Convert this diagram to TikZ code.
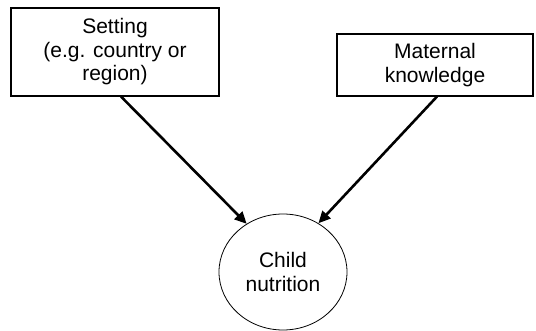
\documentclass[tikz,border=0pt]{standalone}
\usepackage{fontspec}
\setmainfont{Liberation Sans}
\usetikzlibrary{shapes.geometric,arrows.meta,calc}
\begin{document}
\begin{tikzpicture}[x=1pt,y=-1pt,
  every node/.style={font=\fontsize{21}{23.5}\selectfont, align=center, inner sep=0pt},
  factor/.style={draw=black, line width=1.1pt, rectangle},
  outcome/.style={draw=black, line width=0.8pt, ellipse},
  causal/.style={line width=2.6pt, -{Triangle[length=12pt,width=11pt]}}]
\useasboundingbox (0,0) rectangle (536,331);
\node[factor, minimum width=208pt, minimum height=88pt] (b1) at (115,52) {Setting\\(e.g. country or\\region)};
\node[factor, minimum width=196pt, minimum height=62pt] (b2) at (435,65) {Maternal\\knowledge};
\node[outcome, minimum width=128pt, minimum height=116pt] (c) at (283,272) {Child\\nutrition};
\draw[causal] ($(b1.south)+(6,0)$) -- (c.127);
\draw[causal] ($(b2.south)+(2,0)$) -- (c.54);
\end{tikzpicture}
\end{document}
